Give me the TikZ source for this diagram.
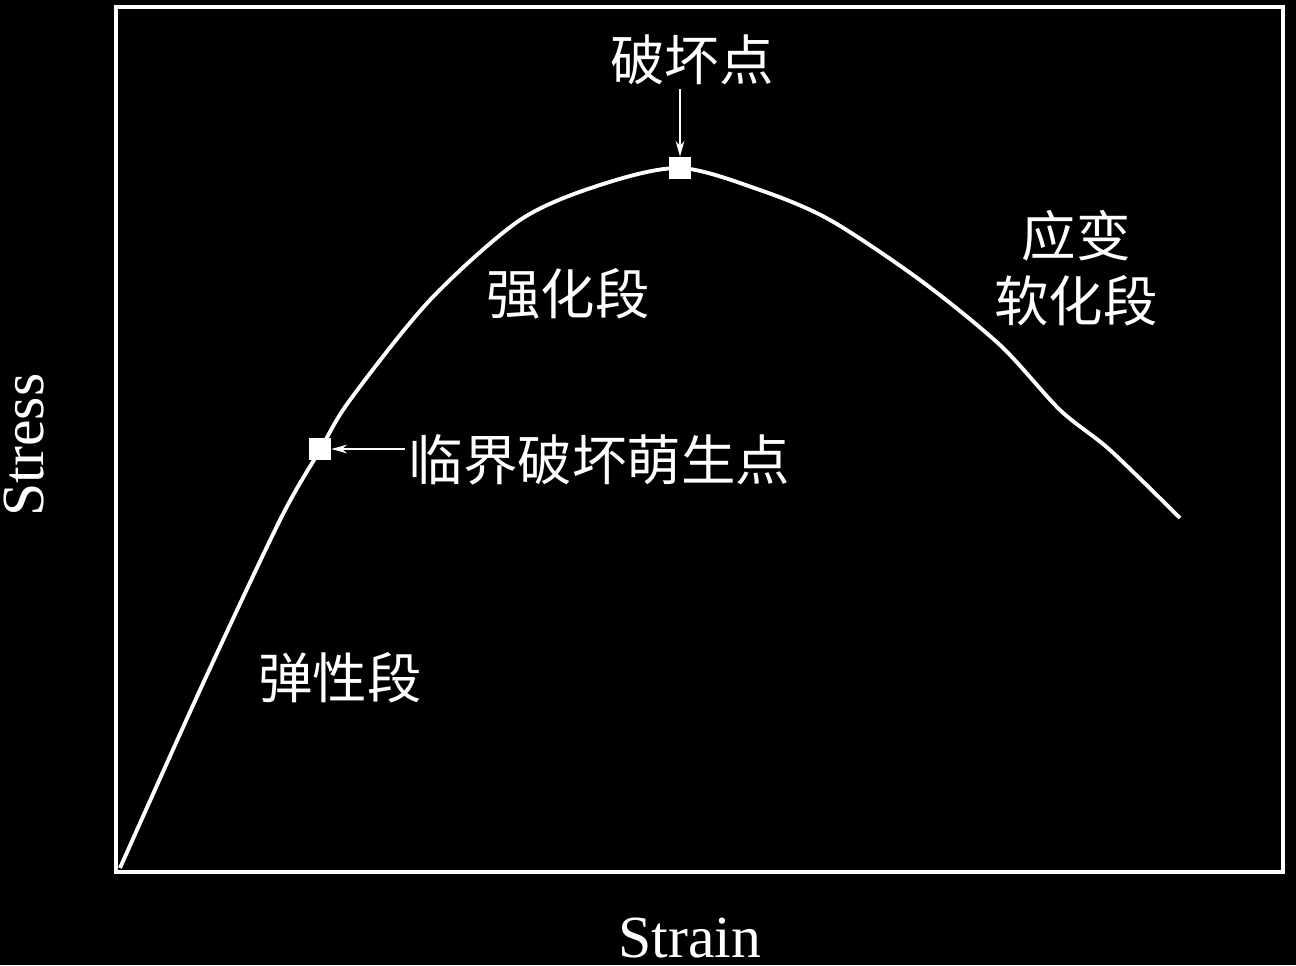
\documentclass[tikz,border=0pt]{standalone}
\usepackage{fontspec}
\setmainfont{Liberation Serif}
\newfontfamily\cjk{Noto Sans CJK SC}
\usetikzlibrary{arrows.meta}
\begin{document}
\begin{tikzpicture}[x=0.02cm,y=-0.02cm,
  lbl/.style={text=white,font=\cjk\fontsize{31}{37}\selectfont,align=center,inner sep=2pt},
  pt/.style={fill=white,minimum size=0.44cm,inner sep=0pt},
  pointer/.style={white,line width=0.8pt,-{Stealth[length=9pt,width=5pt]}}]
\fill[black] (0,0) rectangle (1296,965);
\useasboundingbox (0,0) rectangle (1296,965);
\draw[white,line width=2.4pt] (116,7) rectangle (1283,872);
% curve
\draw[white,line width=2.2pt] plot[smooth,tension=0.5] coordinates {
  (120,868) (200,690) (280,520) (320,450) (350,400) (430,300) (520,220)
  (600,185) (680,168) (760,190) (830,220) (920,280) (1000,345)
  (1060,410) (1110,450) (1180,518)};
\node[pt] (crit) at (320,449) {};
\node[pt] (fail) at (680,168) {};
% labels
\node[lbl] (failtxt) at (692,60) {破坏点};
\node[lbl,anchor=west] (crittxt) at (405,460) {临界破坏萌生点};
\node[lbl] (harden) at (568,294) {强化段};
\node[lbl] (soft) at (1076,268) {应变\\软化段};
\node[lbl] (elastic) at (340,678) {弹性段};
\draw[pointer] (failtxt.south -| fail) -- (fail.north);
\draw[pointer] (crittxt.west |- crit) -- (crit.east);
\node[text=white,font=\fontsize{34}{40}\selectfont] (xlab) at (690,938) {Strain};
\node[text=white,font=\fontsize{34}{40}\selectfont,rotate=90] (ylab) at (24,445) {Stress};
\end{tikzpicture}
\end{document}
